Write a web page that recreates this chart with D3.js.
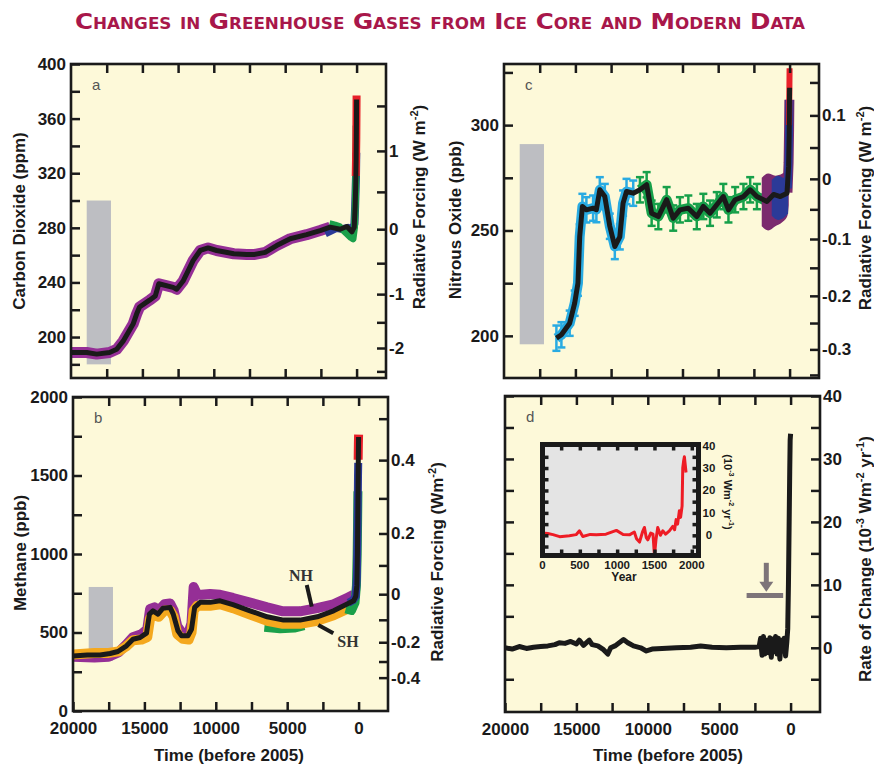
<!DOCTYPE html>
<html>
<head>
<meta charset="utf-8">
<script src="https://cdn.jsdelivr.net/npm/d3@7"></script>
<style>
  body { margin: 0; background: #fff; }
</style>
</head>
<body>
<svg id="chart" width="874" height="767"></svg>
<script>
// ---- data (time = years before 2005) ----
const timeTicks = [17500, 15000, 12500, 10000, 7500, 5000, 2500, 0];
const timeLabels = [20000, 15000, 10000, 5000, 0];
const rangeYears = [18900, 17200]; // grey bars: natural range of last 650 kyr

// a: carbon dioxide
const co2Years = [20000, 18900, 18200, 17300, 16800, 16350, 15650, 15400, 15200, 14500, 14100, 13850, 12850, 12600, 12150, 11450, 10950, 10400, 9800, 8600, 7700, 7200, 6400, 5600, 4650, 3500, 2550, 1850, 1150, 680, 330, 165, 100, 60, 30, 10, 0];
const co2Ppm = [188.7, 188.7, 187.5, 188.7, 191, 197, 209.5, 217, 222, 227, 230, 239, 236.4, 235, 241, 256, 263.4, 265.3, 263.4, 261, 260.4, 260.4, 262, 267, 272, 275, 278, 280.5, 279, 281, 277, 280.5, 296, 311, 330, 355, 374];
const co2BlueYears = [2200, 1800, 1400, 1000, 600, 300, 150, 100, 60, 40, 20];
const co2BluePpm = [276, 278, 280, 279, 280, 278, 283, 296, 311, 318, 335];
const co2GreenYears = [1900, 1500, 1200, 400, 250, 150, 80, 50, 30];
const co2GreenPpm = [283, 282, 281, 273, 272, 280, 300, 320, 355];
const co2RedYears = [60, 40, 20, 5, 0];
const co2RedPpm = [318, 330, 345, 368, 377];
const co2Range = [180, 300];
const co2RfTicks = [-2.5, -2, -1.5, -1, -0.5, 0, 0.5, 1, 1.5];
const co2RfLabels = [-2, -1, 0, 1];

// b: methane
const ch4Years = [20000, 19000, 18100, 17400, 16850, 16250, 15800, 15300, 14850, 14650, 14400, 14050, 13700, 13200, 12980, 12650, 12400, 11950, 11700, 11480, 11100, 10400, 9700, 8800, 7600, 6400, 5250, 4100, 2900, 1750, 800, 350, 200, 120, 80, 50, 25, 0];
const ch4Ppb = [351, 357, 357, 366, 379, 415, 457, 468, 496, 617, 638, 617, 655, 660, 617, 511, 479, 479, 521, 660, 692, 692, 702, 677, 638, 600, 579, 579, 600, 638, 681, 702, 730, 800, 1000, 1300, 1550, 1745];
const ch4CoreYears = [20000, 18500, 17500, 16800, 16300, 15800, 15200, 14800, 14600, 14300, 14000, 13600, 13200, 12950, 12700, 12300, 11900, 11700, 11550, 11300, 11000, 10400, 9700, 8800, 7600, 6400, 5300, 4100, 2900, 1750, 800, 350];
const ch4NhPpb = [345, 340, 345, 375, 420, 470, 490, 520, 650, 660, 640, 680, 685, 640, 540, 490, 500, 560, 790, 740, 740, 745, 740, 720, 690, 660, 635, 635, 655, 680, 720, 740];
const ch4ShPpb = [360, 370, 370, 380, 410, 450, 455, 470, 590, 610, 600, 640, 640, 600, 490, 460, 455, 500, 640, 670, 670, 670, 680, 655, 615, 575, 555, 555, 575, 610, 650, 680];
const ch4GreenYears = [900, 500, 250, 150, 100, 70, 45];
const ch4GreenPpb = [650, 640, 690, 800, 1000, 1200, 1400];
const ch4HoloGreenYears = [6600, 5500, 4500, 3800];
const ch4HoloGreenPpb = [530, 520, 525, 540];
const ch4BlueYears = [700, 400, 200, 120, 90, 60, 40, 25];
const ch4BluePpb = [690, 705, 730, 850, 1050, 1300, 1500, 1580];
const ch4RedYears = [30, 15, 0];
const ch4RedPpb = [1600, 1700, 1760];
const ch4Range = [320, 790];
const ch4RfTicks = [-0.4, -0.3, -0.2, -0.1, 0, 0.1, 0.2, 0.3, 0.4, 0.5];
const ch4RfLabels = [-0.4, -0.2, 0, 0.2, 0.4];
// hemisphere pointers: [yearFrom, ppbFrom, yearTo, ppbTo, label, labelYear, labelPpb]
const hemiNotes = [[3630, 803, 3280, 665, "NH", 4030, 828], [2820, 548, 1770, 495, "SH", 740, 410]];

// c: nitrous oxide
const n2oYears = [16330, 15980, 15400, 15050, 14820, 14700, 14510, 14230, 13760, 13530, 13290, 12940, 12590, 12240, 11890, 11660, 11420, 10950, 10480, 10010, 9660, 9190, 8610, 8150, 7680, 7090, 6500, 6040, 5570, 5100, 4640, 4280, 3810, 3230, 2760, 2290, 1590, 1120, 650, 180, 70, 30, 0];
const n2oPpb = [198.9, 200.5, 206, 215.5, 225, 247, 261.4, 259.8, 260.6, 259.9, 269.3, 266.1, 252, 242.4, 247, 263, 268.5, 267.7, 269.3, 271.7, 258.2, 256.6, 264.6, 255.9, 259.8, 260.6, 256.6, 261.4, 258.2, 262.2, 266.1, 259.8, 264.6, 266.1, 269.3, 266.1, 263.8, 267.1, 266.1, 267.7, 280.4, 295, 317.7];
const n2oErr = 6;
const n2oPurpleBlobYears = [1950, 1500, 1000, 500, 150, 60];
const n2oPurpleLow = [252, 250, 252, 254, 257, 262];
const n2oPurpleHigh = [275, 277, 276, 277, 280, 284];
const n2oPurpleYears = [150, 70, 35, 15];
const n2oPurplePpb = [268, 282, 298, 312];
const n2oBlueBlobYears = [1250, 800, 400, 100];
const n2oBlueLow = [257, 255, 256, 258];
const n2oBlueHigh = [274, 276, 275, 278];
const n2oBlueYears = [120, 60, 30, 10];
const n2oBluePpb = [270, 288, 302, 312];
const n2oRedYears = [40, 20, 0];
const n2oRedPpb = [300, 312, 327];
const n2oRange = [196, 291];
const n2oRfTicks = [-0.35, -0.3, -0.25, -0.2, -0.15, -0.1, -0.05, 0, 0.05, 0.1, 0.15];
const n2oRfLabels = [-0.3, -0.2, -0.1, 0, 0.1];

// d: rate of change of total forcing (10^-3 W m-2 yr-1)
const rateYears = [20000, 19500, 19000, 18500, 18000, 17500, 17000, 16500, 16200, 15800, 15400, 15000, 14800, 14500, 14100, 13900, 13500, 13100, 12800, 12600, 12300, 12000, 11700, 11400, 11000, 10500, 10100, 9700, 9000, 8000, 7000, 6300, 5500, 4500, 3500, 2500, 2200, 2100, 2000, 1900, 1800, 1700, 1550, 1450, 1350, 1250, 1150, 1050, 950, 850, 750, 650, 550, 450, 350, 260, 200, 150, 100, 60, 30, 0];
const rateVals = [0, -0.2, 0.2, -0.1, 0.1, 0.2, 0.3, 0.5, 0.8, 0.7, 1.0, 0.6, 1.2, 0.4, 1.2, 0.5, 0.3, -0.3, -1.0, 0.0, 0.3, 0.8, 1.3, 0.8, 0.3, 0.0, -0.5, -0.2, -0.1, 0, 0.1, 0.3, 0.1, 0, 0.1, 0.1, 0.2, 1.5, -1.2, 1.8, -1.0, 1.2, -0.8, 1.6, -1.5, 1.4, -0.6, 1.8, -1.0, 1.5, -1.8, 1.2, -0.5, 1.5, -1.3, 1.0, 3, 10, 20, 28, 33, 34];
const rateTicks = [-5, 0, 5, 10, 15, 20, 25, 30, 35, 40];
const rateLabels = [0, 10, 20, 30, 40];
const arrowYear = 1700, arrowFrom = 13.5, arrowTo = 8.9;
const barYears = [3080, 520], barLevel = 8.3;

// inset of d (calendar year)
const insetYears = [0, 70, 140, 230, 360, 450, 495, 540, 640, 720, 850, 990, 1080, 1165, 1230, 1260, 1300, 1340, 1366, 1390, 1411, 1450, 1480, 1500, 1520, 1544, 1580, 1611, 1650, 1700, 1745, 1770, 1790, 1810, 1834, 1850, 1870, 1879, 1890, 1901, 1923];
const insetVals = [1, 0.8, 0.3, -0.6, -0.2, 0.3, 2, -0.5, 0.4, 0.3, 0.5, 2.2, 0.4, 0.2, 1.5, -1.5, -3, 1.5, 3.5, -1, -2, 1, 0.5, -9, -2, 3.5, 0, 2, 0.5, 2, 4, 2.5, 7, 5, 11, 8, 13, 30, 33, 35, 28];
const insetXTicks = [250, 500, 750, 1000, 1250, 1500, 1750, 2000];
const insetXLabels = [0, 500, 1000, 1500, 2000];
const insetYTicks = [-5, 0, 5, 10, 15, 20, 25, 30, 35];
const insetYLabels = [0, 10, 20, 30, 40];

// radiative forcing -> concentration (to place the right-hand ticks)
const co2FromRf = rf => 279 * Math.exp(rf / 5.35);
const ch4FromRf = rf => Math.pow(Math.sqrt(744) + rf / 0.0315, 2);
const n2oFromRf = rf => Math.pow(Math.sqrt(274.5) + rf / 0.113, 2);

// ---- drawing ----
const FONT = '"Liberation Sans", Arial, Helvetica, sans-serif';
const INK = "#1a1a1a";
const BG = "#fdf9d9";
const timeDomain = [20000, -2060];

const svg = d3.select("#chart");

svg.append("text")
  .attr("x", 440).attr("y", 29)
  .attr("text-anchor", "middle")
  .attr("textLength", 730).attr("lengthAdjust", "spacingAndGlyphs")
  .style("font-family", '"Liberation Sans Narrow", "DejaVu Sans Condensed", "Liberation Sans", sans-serif')
  .style("font-weight", "bold").style("font-size", "22px")
  .style("font-variant", "small-caps")
  .attr("fill", "#a8174a")
  .text("Changes in Greenhouse Gases from Ice Core and Modern Data");

const pa = { left: 71, right: 386, top: 64, bottom: 378, yDomain: [170, 400] };
const pb = { left: 73, right: 388, top: 397, bottom: 711, yDomain: [0, 2000] };
const pc = { left: 504, right: 819, top: 64, bottom: 378, yDomain: [180, 329] };
const pd = { left: 505, right: 820, top: 396, bottom: 712, yDomain: [-10.2, 40] };

function makePanel(p, id) {
  const x = d3.scaleLinear().domain(timeDomain).range([p.left, p.right]);
  const y = d3.scaleLinear().domain(p.yDomain).range([p.bottom, p.top]);
  svg.append("rect")
    .attr("x", p.left).attr("y", p.top)
    .attr("width", p.right - p.left).attr("height", p.bottom - p.top)
    .attr("fill", BG);
  svg.append("clipPath").attr("id", id).append("rect")
    .attr("x", p.left).attr("y", p.top)
    .attr("width", p.right - p.left).attr("height", p.bottom - p.top);
  const g = svg.append("g").attr("clip-path", `url(#${id})`);
  return { x, y, g };
}

function rangeBar(P, vals) {
  P.g.append("rect")
    .attr("x", P.x(rangeYears[0])).attr("width", P.x(rangeYears[1]) - P.x(rangeYears[0]))
    .attr("y", P.y(vals[1])).attr("height", P.y(vals[0]) - P.y(vals[1]))
    .attr("fill", "#bdbec2");
}

function trace(P, years, vals, color, width) {
  const line = d3.line().x(d => P.x(d[0])).y(d => P.y(d[1]));
  P.g.append("path")
    .attr("d", line(d3.zip(years, vals)))
    .attr("fill", "none")
    .attr("stroke", color).attr("stroke-width", width)
    .attr("stroke-linejoin", "round").attr("stroke-linecap", "butt");
}

function blob(P, years, lo, hi, color) {
  const area = d3.area().x(d => P.x(d[0])).y0(d => P.y(d[1])).y1(d => P.y(d[2]))
    .curve(d3.curveMonotoneX);
  P.g.append("path")
    .attr("d", area(d3.zip(years, lo, hi)))
    .attr("fill", color);
}

function styleAxis(sel, size) {
  sel.attr("font-family", FONT).attr("font-size", size).attr("font-weight", "bold");
  sel.select(".domain").remove();
  sel.selectAll(".tick line").attr("stroke", INK).attr("stroke-width", 2.5);
  sel.selectAll(".tick text").attr("fill", INK);
}

function axes(p, P, o) {
  svg.append("g").attr("transform", `translate(0,${p.top})`)
    .call(d3.axisTop(P.x).tickValues(timeTicks).tickSizeInner(-9).tickSizeOuter(0).tickFormat(""))
    .call(styleAxis, 17);
  svg.append("g").attr("transform", `translate(0,${p.bottom})`)
    .call(d3.axisBottom(P.x).tickValues(o.bottomLabels ? [20000].concat(timeTicks) : timeTicks)
      .tickSizeInner(-9).tickSizeOuter(0).tickPadding(11)
      .tickFormat(d => o.bottomLabels && timeLabels.includes(d) ? d : ""))
    .call(styleAxis, 17);
  svg.append("g").attr("transform", `translate(${p.left},0)`)
    .call(d3.axisLeft(P.y).tickValues(o.leftTicks).tickSizeInner(-9).tickSizeOuter(0).tickPadding(5)
      .tickFormat(d => o.leftLabels.includes(d) ? d : ""))
    .call(styleAxis, 17);
  svg.append("g").attr("transform", `translate(${p.right},0)`)
    .call(d3.axisRight(P.y).tickValues(o.rightTicks.map(o.toConc)).tickSizeInner(-9).tickSizeOuter(0).tickPadding(3)
      .tickFormat((d, i) => o.rightLabels.includes(o.rightTicks[i]) ? String(o.rightTicks[i]) : ""))
    .call(styleAxis, 17);
  svg.append("rect")
    .attr("x", p.left).attr("y", p.top)
    .attr("width", p.right - p.left).attr("height", p.bottom - p.top)
    .attr("fill", "none").attr("stroke", INK).attr("stroke-width", 2.6);
  svg.append("text")
    .attr("x", p.left + 21).attr("y", p.top + 26)
    .attr("font-family", FONT).attr("font-size", 15).attr("fill", "#555")
    .text(o.letter);
}

// rotated axis title; parts = [[text, isSuperscript], ...]
function vTitle(x, y, parts, angle, size) {
  const t = svg.append("text")
    .attr("transform", `translate(${x},${y}) rotate(${angle})`)
    .attr("text-anchor", "middle").attr("dy", "0.35em")
    .attr("font-family", FONT).attr("font-size", size).attr("font-weight", "bold").attr("fill", INK);
  let raised = false;
  parts.forEach(([s, sup]) => {
    const sp = t.append("tspan").text(s);
    if (sup && !raised) { sp.attr("dy", -0.4 * size).attr("font-size", size * 0.65); raised = true; }
    else if (!sup && raised) { sp.attr("dy", 0.4 * size); raised = false; }
  });
}

// ---- panel a ----
const A = makePanel(pa, "clipA");
rangeBar(A, co2Range);
const co2Purple = co2Years.filter(y => y >= 1200);
trace(A, co2Purple, co2Ppm.slice(0, co2Purple.length), "#952f96", 11);
trace(A, co2BlueYears, co2BluePpm, "#2b3a98", 8);
trace(A, co2GreenYears, co2GreenPpm, "#1aa04a", 7);
trace(A, co2RedYears, co2RedPpm, "#e8202a", 8);
trace(A, co2Years, co2Ppm, INK, 5);
axes(pa, A, {
  letter: "a", bottomLabels: false,
  leftTicks: [180, 200, 220, 240, 260, 280, 300, 320, 340, 360, 380, 400],
  leftLabels: [200, 240, 280, 320, 360, 400],
  rightTicks: co2RfTicks, rightLabels: co2RfLabels, toConc: co2FromRf
});

// ---- panel b ----
const B = makePanel(pb, "clipB");
rangeBar(B, ch4Range);
trace(B, ch4CoreYears, ch4NhPpb, "#952f96", 10);
trace(B, ch4HoloGreenYears, ch4HoloGreenPpb, "#1aa04a", 8);
trace(B, ch4CoreYears, ch4ShPpb, "#f4a81e", 10);
trace(B, ch4GreenYears, ch4GreenPpb, "#1aa04a", 9);
trace(B, ch4BlueYears, ch4BluePpb, "#2b3a98", 8);
trace(B, ch4RedYears, ch4RedPpb, "#e8202a", 9);
trace(B, ch4Years, ch4Ppb, INK, 5);
axes(pb, B, {
  letter: "b", bottomLabels: true,
  leftTicks: [0, 250, 500, 750, 1000, 1250, 1500, 1750, 2000],
  leftLabels: [0, 500, 1000, 1500, 2000],
  rightTicks: ch4RfTicks, rightLabels: ch4RfLabels, toConc: ch4FromRf
});
hemiNotes.forEach(d => {
  svg.append("line")
    .attr("x1", B.x(d[0])).attr("y1", B.y(d[1])).attr("x2", B.x(d[2])).attr("y2", B.y(d[3]))
    .attr("stroke", INK).attr("stroke-width", 4);
  svg.append("text")
    .attr("x", B.x(d[5])).attr("y", B.y(d[6]))
    .attr("text-anchor", "middle")
    .attr("font-family", '"Liberation Serif", "Times New Roman", serif')
    .attr("font-weight", "bold").attr("font-size", 16).attr("fill", "#333")
    .text(d[4]);
});

// ---- panel c ----
const C = makePanel(pc, "clipC");
rangeBar(C, n2oRange);
const cyanIdx = n2oYears.map((y, i) => i).filter(i => n2oYears[i] >= 10600);
const greenIdx = n2oYears.map((y, i) => i).filter(i => n2oYears[i] < 10600 && n2oYears[i] >= 1300);
[[cyanIdx, "#29abe2"], [greenIdx, "#17a04a"]].forEach(([idx, col]) => {
  trace(C, idx.map(i => n2oYears[i]), idx.map(i => n2oPpb[i]), col, 10);
  const eb = C.g.append("g").attr("stroke", col).attr("stroke-width", 2.5);
  idx.forEach(i => {
    const cx = C.x(n2oYears[i]);
    eb.append("line").attr("x1", cx).attr("x2", cx)
      .attr("y1", C.y(n2oPpb[i] - n2oErr)).attr("y2", C.y(n2oPpb[i] + n2oErr));
    [-n2oErr, n2oErr].forEach(e => eb.append("line")
      .attr("x1", cx - 4).attr("x2", cx + 4)
      .attr("y1", C.y(n2oPpb[i] + e)).attr("y2", C.y(n2oPpb[i] + e)));
  });
});
blob(C, n2oPurpleBlobYears, n2oPurpleLow, n2oPurpleHigh, "#7b2a6e");
trace(C, n2oPurpleYears, n2oPurplePpb, "#7b2a6e", 10);
blob(C, n2oBlueBlobYears, n2oBlueLow, n2oBlueHigh, "#2b3a98");
trace(C, n2oBlueYears, n2oBluePpb, "#2b3a98", 8);
trace(C, n2oRedYears, n2oRedPpb, "#e8202a", 6);
trace(C, n2oYears, n2oPpb, INK, 5);
axes(pc, C, {
  letter: "c", bottomLabels: false,
  leftTicks: [200, 225, 250, 275, 300, 325],
  leftLabels: [200, 250, 300],
  rightTicks: n2oRfTicks, rightLabels: n2oRfLabels, toConc: n2oFromRf
});

// ---- panel d ----
const D = makePanel(pd, "clipD");
trace(D, rateYears, rateVals, INK, 5);
axes(pd, D, {
  letter: "d", bottomLabels: true,
  leftTicks: rateTicks, leftLabels: [],
  rightTicks: rateTicks, rightLabels: rateLabels, toConc: v => v
});
// grey arrow marking the inset period
const GREY = "#7d7479";
svg.append("line")
  .attr("x1", D.x(barYears[0])).attr("x2", D.x(barYears[1]))
  .attr("y1", D.y(barLevel)).attr("y2", D.y(barLevel))
  .attr("stroke", GREY).attr("stroke-width", 5);
svg.append("line")
  .attr("x1", D.x(arrowYear)).attr("x2", D.x(arrowYear))
  .attr("y1", D.y(arrowFrom)).attr("y2", D.y(arrowTo) - 8)
  .attr("stroke", GREY).attr("stroke-width", 5);
svg.append("path")
  .attr("d", `M${D.x(arrowYear) - 7},${D.y(arrowTo) - 10} L${D.x(arrowYear) + 7},${D.y(arrowTo) - 10} L${D.x(arrowYear)},${D.y(arrowTo)} Z`)
  .attr("fill", GREY);

// inset
const ins = { left: 542.5, right: 698.5, top: 444.5, bottom: 555.5 };
const ix = d3.scaleLinear().domain([0, 2090]).range([ins.left, ins.right]);
const iy = d3.scaleLinear().domain([-9, 40.5]).range([ins.bottom, ins.top]);
svg.append("rect")
  .attr("x", ins.left).attr("y", ins.top)
  .attr("width", ins.right - ins.left).attr("height", ins.bottom - ins.top)
  .attr("fill", "#e4e4e4");
svg.append("clipPath").attr("id", "clipI").append("rect")
  .attr("x", ins.left).attr("y", ins.top)
  .attr("width", ins.right - ins.left).attr("height", ins.bottom - ins.top);
svg.append("path")
  .attr("clip-path", "url(#clipI)")
  .attr("d", d3.line().x(d => ix(d[0])).y(d => iy(d[1]))(d3.zip(insetYears, insetVals)))
  .attr("fill", "none").attr("stroke", "#ee1c25").attr("stroke-width", 3)
  .attr("stroke-linejoin", "round");
function notch(sel) {
  sel.select(".domain").remove();
  sel.selectAll(".tick line").attr("stroke", INK).attr("stroke-width", 3.5);
}
svg.append("g").attr("transform", `translate(0,${ins.top})`)
  .call(d3.axisTop(ix).tickValues(insetXTicks).tickSizeInner(-6).tickSizeOuter(0).tickFormat("")).call(notch);
svg.append("g").attr("transform", `translate(0,${ins.bottom})`)
  .call(d3.axisBottom(ix).tickValues(insetXTicks).tickSizeInner(-6).tickSizeOuter(0).tickFormat("")).call(notch);
svg.append("g").attr("transform", `translate(${ins.left},0)`)
  .call(d3.axisLeft(iy).tickValues(insetYTicks).tickSizeInner(-6).tickSizeOuter(0).tickFormat("")).call(notch);
svg.append("g").attr("transform", `translate(${ins.right},0)`)
  .call(d3.axisRight(iy).tickValues(insetYTicks).tickSizeInner(-6).tickSizeOuter(0).tickFormat("")).call(notch);
svg.append("rect")
  .attr("x", ins.left).attr("y", ins.top)
  .attr("width", ins.right - ins.left).attr("height", ins.bottom - ins.top)
  .attr("fill", "none").attr("stroke", INK).attr("stroke-width", 5);
svg.append("g").selectAll("text").data(insetXLabels).join("text")
  .attr("x", d => ix(d)).attr("y", 569)
  .attr("text-anchor", "middle")
  .attr("font-family", FONT).attr("font-size", 11.5).attr("font-weight", "bold").attr("fill", INK)
  .text(d => d);
svg.append("text")
  .attr("x", 624).attr("y", 581)
  .attr("text-anchor", "middle")
  .attr("font-family", FONT).attr("font-size", 12).attr("font-weight", "bold").attr("fill", INK)
  .text("Year");
svg.append("g").selectAll("text").data(insetYLabels).join("text")
  .attr("x", 709).attr("y", d => iy(d)).attr("dy", "0.35em")
  .attr("text-anchor", "middle")
  .attr("font-family", FONT).attr("font-size", 11.5).attr("font-weight", "bold").attr("fill", INK)
  .text(d => d);
vTitle(728, 492, [["(10", false], ["-3", true], [" Wm", false], ["-2", true], [" yr", false], ["-1", true], [")", false]], 90, 11);

// ---- axis titles ----
vTitle(19, 221, [["Carbon Dioxide (ppm)", false]], -90, 17);
vTitle(419, 207, [["Radiative Forcing (W m", false], ["-2", true], [")", false]], -90, 17);
vTitle(20, 553, [["Methane (ppb)", false]], -90, 17);
vTitle(437, 562, [["Radiative Forcing (Wm", false], ["-2", true], [")", false]], -90, 17);
vTitle(455, 220, [["Nitrous Oxide (ppb)", false]], -90, 17);
vTitle(865, 208, [["Radiative Forcing (W m", false], ["-2", true], [")", false]], -90, 17);
vTitle(865, 559, [["Rate of Change (10", false], ["-3", true], [" Wm", false], ["-2", true], [" yr", false], ["-1", true], [")", false]], -90, 17);
[[229, "Time (before 2005)"], [668, "Time (before 2005)"]].forEach(([x, s]) => {
  svg.append("text")
    .attr("x", x).attr("y", 761).attr("text-anchor", "middle")
    .attr("font-family", FONT).attr("font-size", 17).attr("font-weight", "bold").attr("fill", INK)
    .text(s);
});
</script>
</body>
</html>
